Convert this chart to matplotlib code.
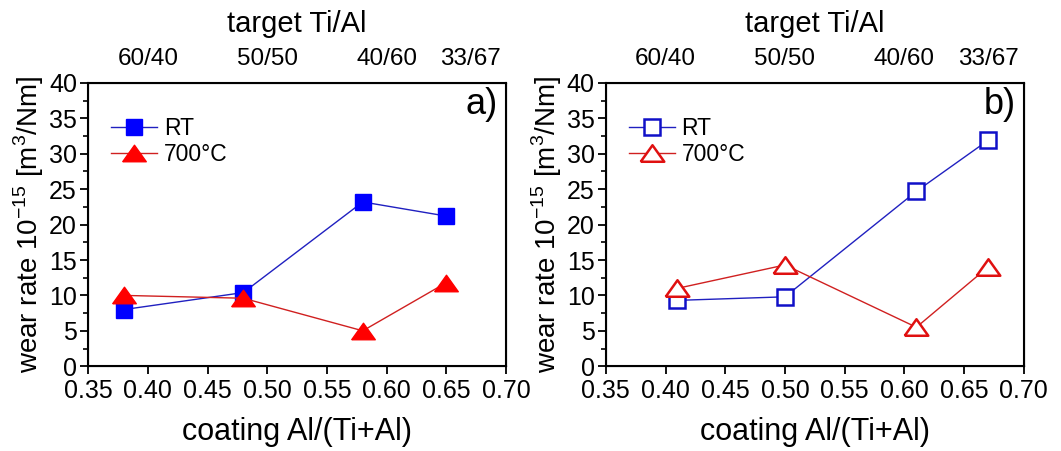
import matplotlib
matplotlib.use("Agg")
import matplotlib.pyplot as plt

plt.rcParams['font.family'] = ['Liberation Sans', 'DejaVu Sans']
plt.rcParams['mathtext.fontset'] = 'custom'
plt.rcParams['mathtext.rm'] = 'Liberation Sans'

# panel a) data
x_a = [0.38, 0.48, 0.58, 0.65]
rt_a = [8.0, 10.4, 23.2, 21.2]
hot_a = [10.0, 9.6, 5.0, 11.8]

# panel b) data
x_b = [0.41, 0.50, 0.61, 0.67]
rt_b = [9.3, 9.8, 24.7, 31.9]
hot_b = [11.0, 14.3, 5.5, 14.0]

# top axis (target composition)
top_pos = [0.40, 0.50, 0.60, 0.67]
top_labels = ['60/40', '50/50', '40/60', '33/67']

# flat triangle like in the original figure (wider than tall)
tri = [(-1.0, -0.7), (1.0, -0.7), (0.0, 0.7), (-1.0, -0.7)]

fig = plt.figure(figsize=(10.61, 4.51), dpi=100)
ax_a = fig.add_axes([0.083, 0.188, 0.394, 0.628])
ax_b = fig.add_axes([0.571, 0.188, 0.394, 0.628])


def draw_panel(ax, x, rt, hot, filled, tag):
    if filled:
        ax.plot(x, rt, '-s', color='#2020c0', lw=1, ms=11, mfc='blue', mec='blue',
                label='RT', clip_on=False, zorder=3)
        ax.plot(x, hot, '-', marker=tri, color='#d02020', lw=1, ms=17, mfc='red', mec='red',
                label='700°C', clip_on=False, zorder=3)
    else:
        ax.plot(x, rt, '-s', color='#2020c0', lw=1, ms=11, mfc='white', mec='#1010c8',
                mew=1.8, label='RT', clip_on=False, zorder=3)
        ax.plot(x, hot, '-', marker=tri, color='#d02020', lw=1, ms=17, mfc='white', mec='#e01010',
                mew=1.8, label='700°C', clip_on=False, zorder=3)

    ax.set_xlim(0.35, 0.70)
    ax.set_ylim(0, 40)
    ax.set_xticks([0.35, 0.40, 0.45, 0.50, 0.55, 0.60, 0.65, 0.70])
    ax.set_xticklabels(['0.35', '0.40', '0.45', '0.50', '0.55', '0.60', '0.65', '0.70'])
    ax.set_yticks(range(0, 41, 5))
    ax.set_yticks([2.5 + 5 * i for i in range(8)], minor=True)
    ax.tick_params(axis='both', which='major', direction='out', length=6, width=1.3,
                   labelsize=18, colors='black', pad=2)
    ax.tick_params(axis='x', which='major', pad=3)
    ax.tick_params(axis='y', which='minor', direction='out', length=3.5, width=1.2)
    for s in ax.spines.values():
        s.set_linewidth(1.5)

    ax.set_xlabel('coating Al/(Ti+Al)', fontsize=22, labelpad=10)
    ax.set_ylabel(r'wear rate 10$^{-15}$ [m$^3$/Nm]', fontsize=20, labelpad=2)

    top = ax.twiny()
    top.set_xlim(ax.get_xlim())
    top.set_xticks(top_pos)
    top.set_xticklabels(top_labels)
    top.tick_params(axis='x', length=0, labelsize=17.5, pad=9)
    top.set_xlabel('target Ti/Al', fontsize=21, labelpad=12)

    ax.text(0.98, 0.925, tag, transform=ax.transAxes, ha='right', va='center', fontsize=26)

    ax.legend(loc='upper left', bbox_to_anchor=(0.0, 0.96), frameon=False, fontsize=16.5,
              handlelength=2.0, handletextpad=0.3, labelspacing=0.1, borderpad=0.5)


draw_panel(ax_a, x_a, rt_a, hot_a, True, 'a)')
draw_panel(ax_b, x_b, rt_b, hot_b, False, 'b)')

fig.savefig('out.png', dpi=100)
